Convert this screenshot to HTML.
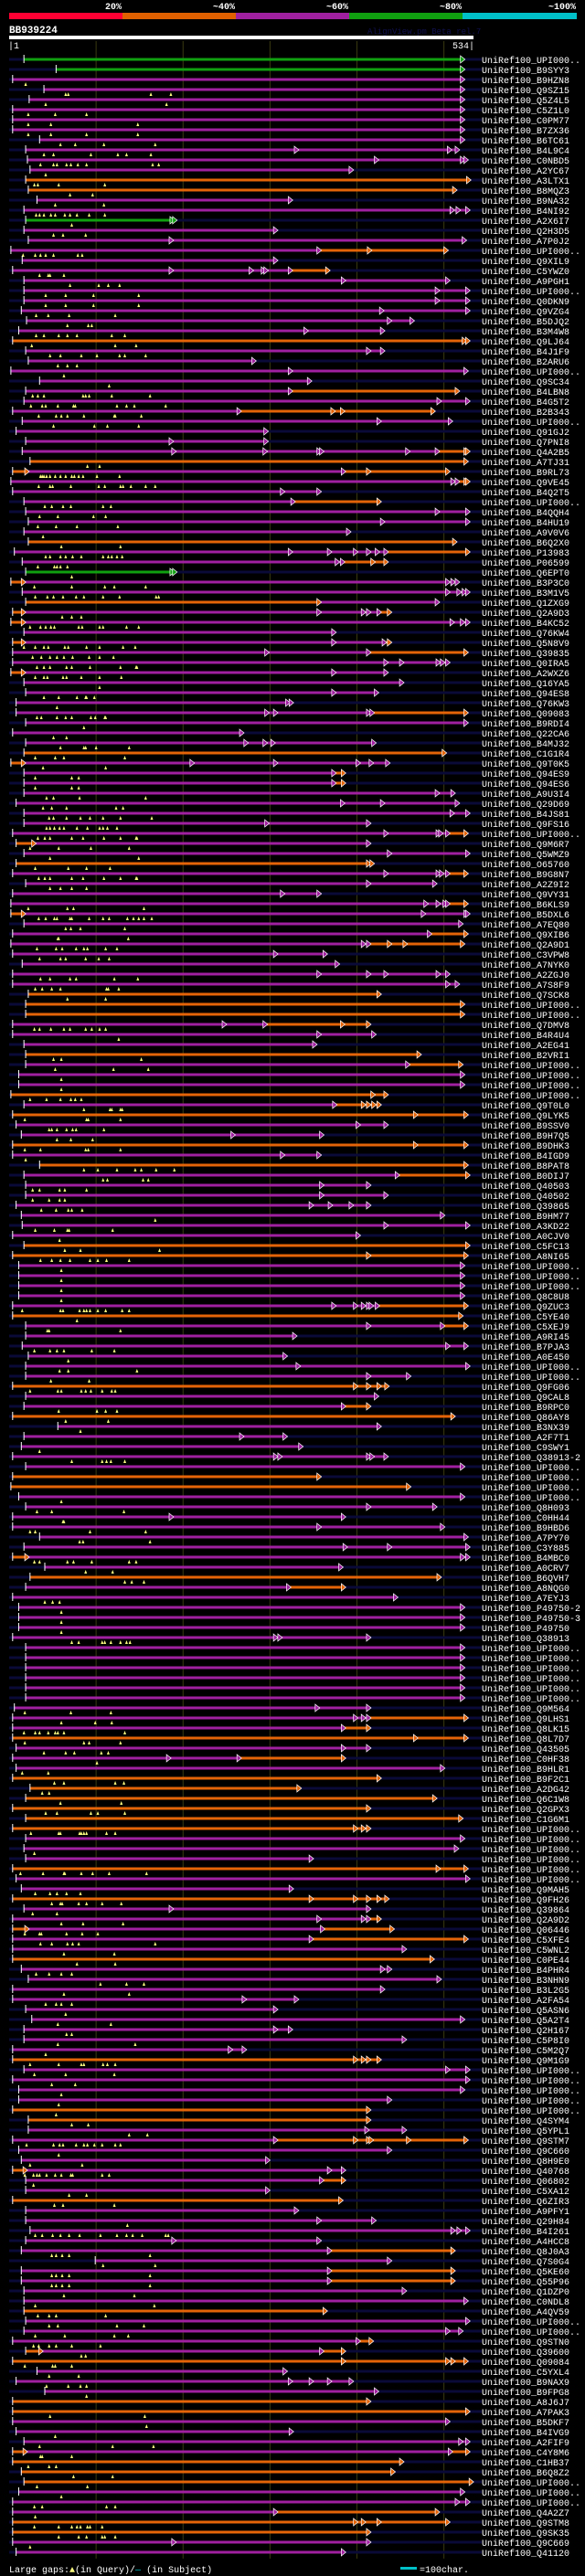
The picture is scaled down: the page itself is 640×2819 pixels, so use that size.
<!DOCTYPE html>
<html><head><meta charset="utf-8"><title>AlignView BB939224</title>
<style>
html,body{margin:0;padding:0;background:#000;}
body{width:640px;height:2819px;overflow:hidden;font-family:"Liberation Mono",monospace;}
svg{display:block}
</style></head>
<body>
<svg id="chart" width="640" height="2819" viewBox="0 0 640 2819" xmlns="http://www.w3.org/2000/svg">
<rect x="0" y="0" width="640" height="2819" fill="#000"/>
<g id="header" font-family="Liberation Mono, monospace" font-weight="bold" font-size="10" fill="#fff">
<rect x="10" y="14" width="124" height="7" fill="#ff0033"/>
<rect x="134" y="14" width="124" height="7" fill="#e06000"/>
<rect x="258" y="14" width="124" height="7" fill="#a020a0"/>
<rect x="382" y="14" width="124" height="7" fill="#10a010"/>
<rect x="506" y="14" width="125" height="7" fill="#00c0c8"/>
<text x="133" y="10" text-anchor="end">20%</text>
<text x="257" y="10" text-anchor="end">~40%</text>
<text x="381" y="10" text-anchor="end">~60%</text>
<text x="505" y="10" text-anchor="end">~80%</text>
<text x="630" y="10" text-anchor="end">~100%</text>
</g>
<text x="10" y="36" font-family="Liberation Mono, monospace" font-weight="bold" font-size="11" fill="#fff">BB939224</text>
<text x="402" y="37" font-family="Liberation Mono, monospace" font-size="9" fill="#101050">AlignView.pm Beta rel.7</text>
<rect x="10" y="39" width="508" height="4" fill="#fff"/>
<text x="9" y="53" font-family="Liberation Mono, monospace" font-size="10" fill="#fff">|1</text>
<text x="519" y="53" text-anchor="end" font-family="Liberation Mono, monospace" font-size="10" fill="#fff">534|</text>
<g id="grid"></g>
<g id="rows"></g>
<g font-family="Liberation Mono, monospace" font-size="10" fill="#fff">
<text x="10" y="2815">Large gaps:<tspan fill="#ffff80">▲</tspan>(in Query)/<tspan fill="#00c0c8">—</tspan> (in Subject)</text>
<rect x="438" y="2809" width="18" height="3" fill="#00c0c8"/>
<text x="459" y="2815">=100char.</text>
</g>
</svg>
<script>
const queryLength = 534;
const gridTicks = [100, 200, 300, 400, 500];
const rowNames = ["UPI000..","B9SYY3","B9HZN8","Q9SZ15","Q5Z4L5","C5Z1L0","C0PM77","B7ZX36","B6TC61","B4L9C4","C0NBD5","A2YC67","A3LTX1","B8MQZ3","B9NA32","B4NI92","A2X6I7","Q2H3D5","A7P0J2","UPI000..","Q9XIL9","C5YWZ0","A9PGH1","UPI000..","Q0DKN9","Q9VZG4","B5DJQ2","B3M4W8","Q9LJ64","B4J1F9","B2ARU6","UPI000..","Q9SC34","B4LBN8","B4G5T2","B2B343","UPI000..","Q91GJ2","Q7PNI8","Q4A2B5","A7TJ31","B9RL73","Q9VE45","B4Q2T5","UPI000..","B4QQH4","B4HU19","A9V0V6","B6Q2X0","P13983","P06599","Q6EPT0","B3P3C0","B3M1V5","Q1ZXG9","Q2A9D3","B4KC52","Q76KW4","Q5N8V9","Q39835","Q0IRA5","A2WXZ6","Q16YA5","Q94ES8",
"Q76KW3","Q09083","B9RDI4","Q22CA6","B4MJ32","C1G1R4","Q9T0K5","Q94ES9","Q94ES6","A9U3I4","Q29D69","B4JS81","Q9FS16","UPI000..","Q9M6R7","Q5WMZ9","O65760","B9G8N7","A2Z9I2","Q9VY31","B6KLS9","B5DXL6","A7EQ80","Q9XIB6","Q2A9D1","C3VPW8","A7NYK0","A2ZGJ0","A7S8F9","Q7SCK8","UPI000..","UPI000..","Q7DMV8","B4R4U4","A2EG41","B2VRI1","UPI000..","UPI000..","UPI000..","UPI000..","Q9T0L0","Q9LYK5","B9SSV0","B9H7Q5","B9DHK3","B4IGD9","B8PAT8","B0DIJ7","Q40503","Q40502","Q39865","B9HM77","A3KD22","A0CJV0","C5FC13","A8NI65","UPI000..","UPI000..","UPI000..","Q8C8U8","Q9ZUC3","C5YE40","C5XEJ9","A9RI45",
"B7PJA3","A0E450","UPI000..","UPI000..","Q9FG06","Q9CAL8","B9RPC0","Q86AY8","B3NX39","A2F7T1","C9SWY1","Q38913-2","UPI000..","UPI000..","UPI000..","UPI000..","Q8H093","C0HH44","B9HBD6","A7PY70","C3Y885","B4MBC0","A0CRV7","B6QVH7","A8NQG0","A7EYJ3","P49750-2","P49750-3","P49750","Q38913","UPI000..","UPI000..","UPI000..","UPI000..","UPI000..","UPI000..","Q9M564","Q9LHS1","Q8LK15","Q8L7D7","Q43505","C0HF38","B9HLR1","B9F2C1","A2DG42","Q6C1W8","Q2GPX3","C1G6M1","UPI000..","UPI000..","UPI000..","UPI000..","UPI000..","UPI000..","Q9MAH5","Q9FH26","Q39864","Q2A9D2","Q06446","C5XFE4","C5WNL2","C0PE44","B4PHR4","B3NHN9",
"B3L2G5","A2FA54","Q5ASN6","Q5A2T4","Q2H167","C5P8I0","C5M2Q7","Q9M1G9","UPI000..","UPI000..","UPI000..","UPI000..","UPI000..","Q4SYM4","Q5YPL1","Q9STM7","Q9C660","Q8H9E0","Q40768","Q06802","C5XA12","Q6ZIR3","A9PFY1","Q29H84","B4I261","A4HCC8","Q8J0A3","Q7S0G4","Q5KE60","Q55P96","Q1DZP0","C0NDL8","A4QV59","UPI000..","UPI000..","Q9STN0","Q39600","Q09084","C5YXL4","B9NAX9","B9FPG8","A8J6J7","A7PAK3","B5DKF7","B4IVG9","A2FIF9","C4Y8M6","C1HB37","B6Q8Z2","UPI000..","UPI000..","UPI000..","Q4A2Z7","Q9STM8","Q9SK35","Q9C669","Q41120"];
const rowSegments = [
"g17-520","g54-520","p4-520","p40-520","p23-520","p4-520","p4-520","p4-520","p35-520","p19-329 p329-505 p505-514",
"p21-421 p421-520 p520-524","p24-392","o19-527","o22-511","p32-322","p17-508 p508-515 p515-526","g19-186 g186-189","p17-305","p22-185 p185-522","p2-355 o355-413 o413-501",
"p15-305","p4-185 p185-277 p277-291 p291-294 p294-322 o322-365","p17-383 p383-503","p17-491 p491-526","p17-491 p491-526","p14-427 p427-526","p20-436 p436-462","p11-340 p340-428","o4-522 o522-526","p19-412 p412-428",
"p22-280","p2-322 p322-524","p35-344","p19-322 o322-514","p17-493 p493-526","p4-263 o263-371 o371-382 o382-486","p15-424 p424-506","p8-294","p19-185 p185-294","p15-188 p188-293 p293-355 p355-358 p358-457 p457-491 o491-524 o524-526",
"o24-524","o4-19 p19-383 o383-412 o412-503","p2-509 p509-514 o514-524 o524-526","p4-313 p313-355","p17-325 o325-424","p19-491 p491-526","p22-428 p428-526","p17-389","o22-511","p6-322 p322-367 p367-397 p397-412 p412-422 p422-432 o432-526",
"p15-376 p376-382 o382-417 o417-432","g19-186 g186-189","o2-15 p15-503 p503-509 p509-514","p15-503 p503-516 p516-522 p522-526","o19-355 p355-491","o4-15 p15-355 p355-406 p406-412 p412-424 o424-436","o2-15 p15-508 p508-520 p520-526","p17-372","o4-15 p15-372 p372-430 o430-436","p4-295 p295-412 o412-524",
"p4-432 p432-450 p450-492 p492-497 p497-503","o2-15 p15-372 p372-432","p17-450","p19-372 p372-421",
"p8-319 p319-323","p8-295 p295-305 p305-412 p412-416 o416-524","p19-524","p4-266","p19-271 p271-293 p293-302 p302-418","o17-499","o2-15 p15-209 p209-305 p305-400 p400-415 p415-434","p17-372 o372-383","p17-372 o372-383","p17-491 p491-509",
"p8-382 p382-428 p428-514","p17-508 p508-526","p17-295 p295-412","p4-432 p432-492 p492-495 p495-503 o503-524","o8-27 p27-412","p17-436 p436-526","o8-412 o412-416","p4-432 p432-492 p492-496 p496-503 o503-524","p19-412 p412-488","p4-313 p313-355",
"p2-478 p478-492 p492-500 p500-503 o503-524","o2-15 p15-475 p475-524 p524-526","p17-518","p4-482 o482-524","p2-406 p406-412 o412-436 o436-454 o454-520","p4-305 p305-362","p15-376","p4-355 p355-412 p412-432 p432-492 p492-503","p4-503 p503-514","o22-424",
"o19-520","o19-520","p4-246 p246-293 o293-382 o382-412","p4-355 p355-418","p17-350","o19-470","p19-457 o457-518","p11-520","p11-520","o2-417 o417-432",
"p17-373 o373-406 o406-412 o412-418 o418-424","o4-466 o466-524","p8-400 p400-432","p14-256 p256-358","o4-466 o466-524","p4-313 p313-355","o35-524","p17-445 o445-526","p19-358 p358-412","p19-358 p358-432",
"p8-346 p346-368 p368-392 p392-412","p14-497","p15-432 p432-526","p4-400","o17-526","o4-412 o412-524","p11-520","p11-520","p11-520","p11-520",
"p4-372 p372-397 p397-406 p406-412 p412-415 p415-422 o422-524","o4-518","p19-412 p412-497 o497-524","p19-327",
"p15-503 p503-524","p22-316","p19-331 p331-526","p19-412 p412-458","o4-397 o397-412 o412-424 o424-433","p19-421","p17-383 o383-412","o4-509","p56-424","p17-266 p266-316",
"p14-334","p4-305 p305-310 p310-412 p412-416 p416-432","p19-520","o4-355","o2-458","p11-520","p19-412 p412-488","p4-185 p185-383","p4-355 p355-497","p35-524",
"p17-385 p385-436 p436-526","o4-19 p19-520 p520-526","p41-380","o24-493","p19-320 o320-383","p4-443","p11-520","p11-520","p11-520","p4-305 p305-310 p310-412",
"p19-520","p19-520","p19-520","p19-520","p19-520","p19-520","p6-353 p353-412","p4-397 p397-406 p406-412 o412-524","p4-383 o383-412","o4-466 o466-524",
"p8-383 p383-412","p4-182 p182-263 o263-383","p8-497","o4-424","o24-332","o19-488","o4-412","o19-518","o4-397 o397-406 o406-412","p19-520",
"p17-513","p19-346","o4-492 o492-524","p8-526","p14-323","o4-346 o346-397 o397-412 o412-424 o424-433","p17-185 p185-412","p4-355 p355-406 p406-412 o412-424","o4-19 p19-359 o359-439","p4-346 o346-524",
"p4-453","o4-485","p14-428 p428-436","p22-493",
"p4-428","p4-269 p269-329","p19-305","p26-520","p17-305 p305-322","p17-453","p4-253 p253-269","o4-397 o397-406 o406-412 o412-424","p17-503 p503-526","p4-526",
"p11-520","p11-436","o4-412","o22-412","p22-410 p410-453","p4-305 o305-397 o397-412 o412-415 o415-458 o458-524","p11-436","p14-296","o4-17 p17-367 p367-383","p19-358 o358-383",
"p19-296","o4-380","p19-329","p19-355 p355-418","p24-509 p509-516 p516-526","p19-188 p188-355","p14-367 o367-509","p99-436","p14-367 o367-509","p14-367 o367-509",
"p17-453","p17-524","o17-362","p19-526","p17-503 p503-518","p4-400 o400-415","o19-35 p35-358 o358-383","o4-383 o383-503 o503-509 o509-524","p32-316","p8-322 p322-346 p346-367 p367-392",
"p41-421","o4-412","o4-526","p4-503","p8-323","p17-518 p518-526","o4-17 p17-506 o506-526","o4-450","o14-440","o17-530",
"p11-520","p4-514 p514-526","p4-305 o305-491","o4-397 o397-406 o406-424 o424-503","o4-412","p4-188 p188-412","p8-383"];
const rowGaps = [
[],[],[19],[65,68,163,186],[42,181],[22,53,89],[22,48,148],[22,48,89,148],[59,76,109,168],[40,51,94,125,135,163],
[36,51,55,66,71,79,89,165,172],[42],[29,33,57,110],[70,96],[53,109],[31,35,40,48,53,64,70,78,92,110],[72],[51,62,88],[],[16,30,36,42,51,79,84],
[],[35,45,47,63],[70,103,114,127],[42,65,97,149],[42,65,97,149],[31,45,69,122],[67,91,95],[31,40,57,67,78,118,133],[26,122,146],[47,59,83,101,127,133,157],
[56,67,78],[63],[115],[27,33,40,85,88,92,118,162],[25,38,42,56,74,76,124,135,144,180],[34,54,60,67,86,121,122,152],[51,98,113,149],[],[],[],
[90,104],[36,38,40,43,47,53,59,65,72,75,80,85,101,127],[34,47,50,71,103,110,128,131,140,157,168],[],[41,49,62,71,108,117],[35,56,97,111],[33,54,78,125],[39],[60,128],[42,47,59,65,73,83,108,114,118,124,130],
[33,52,55,59,67],[72],[29,72,110,121,157],[30,44,51,62,77,86,108,127,169,172],[],[61,72,83],[24,36,42,48,52,80,84,104,108,135,149],[],[17,30,40,45,64,68,89,104,131,145],[27,37,47,55,63,73,92,104,120],
[32,40,47,66,72,93,128,146,147],[30,40,44,62,66,83,104,129],[104],[40,57,78,88,89,98],
[55],[32,37,55,65,72,94,99,110,111],[86],[51,66],[59,86,88,100,138],[30,53,63,133],[39,111],[30,72,80],[30,72,80],[43,51,81,157],
[39,49,66,123,131],[46,51,66,82,93,108,128,164],[43,47,52,58,63,78,90,104,108,113,124],[33,41,47,72,85,109,128,146,147],[24,57,94,138],[47,149],[30,68,89,116],[34,41,47,72,85,109,128,146,147],[47,59,72,89],[],
[22,67,74,155],[34,42,52,55,70,72,92,108,115,136,143,149,155,164],[65,71,82,133],[56,57,137],[32,54,61,77,86,90,111,124],[35,59,65,88,103,115],[],[36,47,70,77,121,148],[30,38,49,59,112,114,126],[67,111],
[],[],[29,35,48,63,70,88,95,104,111],[126],[],[51,60,152],[53,120,160],[60],[60],[24,43,59,71,76,83],
[86,116,118,128,130],[18,89,91,128],[46,49,55,66,73,77,109],[55,71,96],[18,36,88,91,128],[19],[86,102,124,145,152,169,190],[108,113,154,160],[27,35,58,64,89],[27,46,58,64],
[37,54,68,72,84],[168],[30,52,67,69,119],[58],[64,82,173],[36,49,59,70,93,102,112,138],[60],[60],[60],[60],
[15,59,62,81,86,89,93,102,111,130,138],[78],[44,46,128],[],
[29,47,55,63,95,121],[68],[58,68,147],[48,92],[24,56,60,83,88,94,107,118,122],[],[57,101,111,124],[65,114],[82],[],
[35],[72,107,112,117,133],[],[],[],[60],[32,49,132],[62,63],[24,30,93,157],[81,85,162],
[],[29,35,67,74,95,138,146],[88,119],[133,141,155],[],[41,50,58],[60],[60],[60],[72,80,107,110,117,128,135,139],
[],[],[],[],[],[],[18,71,117],[60,99,118],[17,30,35,45,53,56,63,133],[18,86,92,128],
[40,65,75,106,114],[101],[15,45],[52,63,122,132],[38,46],[59,129],[42,55,94,102,133],[],[25,57,59,81,83,86,89,112,122],[],
[29],[],[13,39,63,64,83,96,115,158],[],[30,47,55,66,82],[49,59,61,80,89,107,129],[27,55],[60,85,131],[18,35,37,66,84,102],[36,49,67,73,80,168],
[63,121],[78,122],[31,46,60,72],[105,135,155],
[63,138],[42,54,60,72],[65],[56,117],[66,72],[56,145],[42],[24,57,83,86,108,113,122],[29,65,121],[49,76],
[60],[57],[54],[72,91],[138,159],[20,51,58,62,77,86,90,98,107,122,128],[57],[24,84],[18,28,32,35,43,53,60,71,73,107,115],[28],
[69,89],[52,62,121],[],[136],[30,38,50,59,69,81,105,124,135,142,153,180,183],[],[49,54,61,69,162],[108,168],[49,54,61,69,162],[49,54,61,69,162],
[63,144],[30,167],[33,46,54,111],[46,56,124,155],[30,64,121,137],[28,34,46,54,72,105],[83,88],[18,50,53,72],[46,80],[43,68,82,89],
[89],[],[47,156],[158],[53],[35,119,166],[36,38,72],[22,46,54],[74,119],[32,90],
[60],[29,38,112,122],[30],[29,57,72,78,82,90,93,107],[57,80,89,107,110,122],[24],[]];

const NS = "http://www.w3.org/2000/svg";
const colorMap = {p:"#a020a0", o:"#e46408", g:"#10a010"};
function xScale(c){ return 10 + c * (508 / queryLength); }
function yRow(i){ return 65 + 11 * i; }
function mk(tag, attrs){ const e=document.createElementNS(NS,tag); for(const k in attrs) e.setAttribute(k, attrs[k]); return e; }

const grid = document.getElementById('grid');
gridTicks.forEach(t=>{
  const l = mk('line',{x1:xScale(t),x2:xScale(t),y1:45,y2:2800,stroke:"#3a3a10","stroke-width":1});
  
  
  grid.appendChild(l);
});

const rowsG = document.getElementById('rows');
rowNames.forEach((nm, i)=>{
  const y = yRow(i);
  const g = mk('g',{});
  
  
  const nav = mk('rect',{x:10,y:y-1.5,width:517,height:3,fill:"#0a0a38"});
  
  
  g.appendChild(nav);
  const segs = (rowSegments[i]||"").split(" ").filter(Boolean).map(s=>{
    const m = s.match(/^([pog])(\d+)-(\d+)$/); return {c:m[1], s:+m[2], e:+m[3]};
  });
  segs.forEach(sg=>{
    const x0=xScale(sg.s), x1=xScale(sg.e);
    const r = mk('rect',{x:x0,y:y-1.5,width:Math.max(0,x1-x0),height:3,fill:colorMap[sg.c]});
    
    
    g.appendChild(r);
  });
  segs.forEach(sg=>{
    const x1=xScale(sg.e);
    const tri = mk('polygon',{points:`${x1-1},${y-4} ${x1+4},${y} ${x1-1},${y+4}`,fill:colorMap[sg.c],stroke:"#fff","stroke-width":0.7});
    
    
    g.appendChild(tri);
  });
  if(segs.length){
    const tk = mk('rect',{x:xScale(segs[0].s)-0.5,y:y-5,width:1,height:9,fill:"#fff"});
    
    
    g.appendChild(tk);
  }
  (rowGaps[i]||[]).forEach(gp=>{
    const gx = xScale(gp);
    const m = mk('polygon',{points:`${gx-1.5},${y+7} ${gx},${y+3} ${gx+1.5},${y+7}`,fill:"#ffff80"});
    
    
    g.appendChild(m);
  });
  const t = mk('text',{x:527,y:y+4,"font-family":"Liberation Mono, monospace","font-size":10,fill:"#fff"});
  t.textContent = "UniRef100_" + nm;
  
  
  g.appendChild(t);
  rowsG.appendChild(g);
});
</script>
</body></html>
